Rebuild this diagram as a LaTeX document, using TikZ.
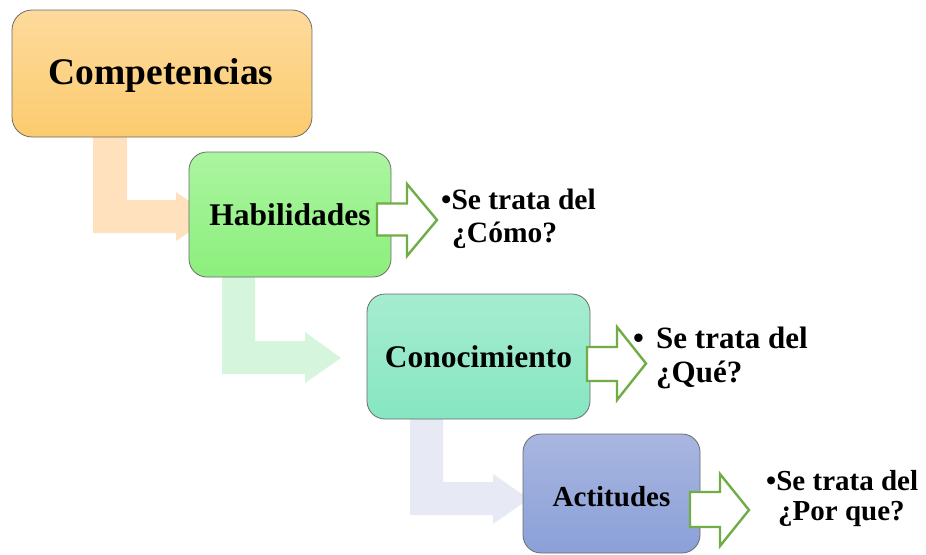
\documentclass[tikz,border=0pt]{standalone}
\usepackage{fontspec}
\setmainfont{Liberation Serif}
\definecolor{compTop}{HTML}{FDDA9C}
\definecolor{compBot}{HTML}{FCCB6E}
\definecolor{habTop}{HTML}{ABF5A0}
\definecolor{habBot}{HTML}{8CEF7C}
\definecolor{conTop}{HTML}{A6ECD0}
\definecolor{conBot}{HTML}{86E6C2}
\definecolor{actTop}{HTML}{A9B6E0}
\definecolor{actBot}{HTML}{8AA0D8}
\definecolor{boxLine}{HTML}{6B6B6B}
\definecolor{paleA}{HTML}{FFE1BE}
\definecolor{paleB}{HTML}{D5F6DC}
\definecolor{paleC}{HTML}{E7EAF4}
\definecolor{arrowGreen}{HTML}{70AD47}
\tikzset{
  stagebox/.style={draw=boxLine, line width=0.8pt, rounded corners=18pt, inner sep=0pt, font=\bfseries},
  blockarrow/.style={draw=arrowGreen, line width=2.4pt, fill=white, line join=miter},
  txt/.style={anchor=base west, inner sep=0pt, font=\bfseries}
}
\begin{document}
\begin{tikzpicture}[x=1pt,y=-1pt]
\useasboundingbox (0,0) rectangle (926,554);
% pale bent arrows
\fill[paleA] (93,130) -- (127,130) -- (127,200) -- (176,200) -- (176,192) -- (212,216.5) -- (176,241) -- (176,233) -- (93,233) -- cycle;
\fill[paleB] (222,270) -- (255,270) -- (255,341) -- (305,341) -- (305,332) -- (341,358) -- (305,383) -- (305,374) -- (222,374) -- cycle;
\fill[paleC] (410,412) -- (443,412) -- (443,482) -- (493,482) -- (493,474) -- (529,499) -- (493,524) -- (493,515) -- (410,515) -- cycle;
% boxes
\node[stagebox, top color=compTop, bottom color=compBot, minimum width=300pt, minimum height=127pt, rounded corners=20pt] (comp) at (162,73.5) {};
\node[font=\bfseries\fontsize{37.5}{40}\selectfont, inner sep=0pt] (compt) at (161,75.5) {Competencias};
\node[stagebox, top color=habTop, bottom color=habBot, minimum width=202pt, minimum height=125pt, font=\bfseries\fontsize{31.5}{34}\selectfont] (hab) at (290,214.5) {Habilidades};
\node[stagebox, top color=conTop, bottom color=conBot, minimum width=223pt, minimum height=125pt, font=\bfseries\fontsize{31.5}{34}\selectfont] (con) at (478.5,356.5) {Conocimiento};
\node[stagebox, top color=actTop, bottom color=actBot, minimum width=177pt, minimum height=119pt] (act) at (611.5,493.5) {};
\node[font=\bfseries\fontsize{29}{32}\selectfont, inner sep=0pt] (actt) at (611.5,497) {Actitudes};
% green outline arrows
\draw[blockarrow] (377,203.5) -- (407,203.5) -- (407,184) -- (437,220) -- (407,256) -- (407,235.5) -- (377,235.5) -- cycle;
\draw[blockarrow] (587,347) -- (617,347) -- (617,327) -- (646,363.5) -- (617,400) -- (617,381) -- (587,381) -- cycle;
\draw[blockarrow] (690,492) -- (720,492) -- (720,474) -- (749,510) -- (720,546) -- (720,527) -- (690,527) -- cycle;
% texts
\node[txt, font=\bfseries\fontsize{29.5}{32}\selectfont] (t1a) at (441,209.5) {•Se trata del};
\node[txt, font=\bfseries\fontsize{29.5}{32}\selectfont] (t1b) at (452,242) {¿Cómo?};
\node[txt, font=\bfseries\fontsize{31}{34}\selectfont] (t2bul) at (633,348) {•};
\node[txt, font=\bfseries\fontsize{31}{34}\selectfont] (t2a) at (656,348) {Se trata del};
\node[txt, font=\bfseries\fontsize{31}{34}\selectfont] (t2b) at (656,382) {¿Qué?};
\node[txt, font=\bfseries\fontsize{29}{31}\selectfont] (t3a) at (766,490.5) {•Se trata del};
\node[txt, font=\bfseries\fontsize{29}{31}\selectfont] (t3b) at (778,520.5) {¿Por que?};
\end{tikzpicture}
\end{document}
